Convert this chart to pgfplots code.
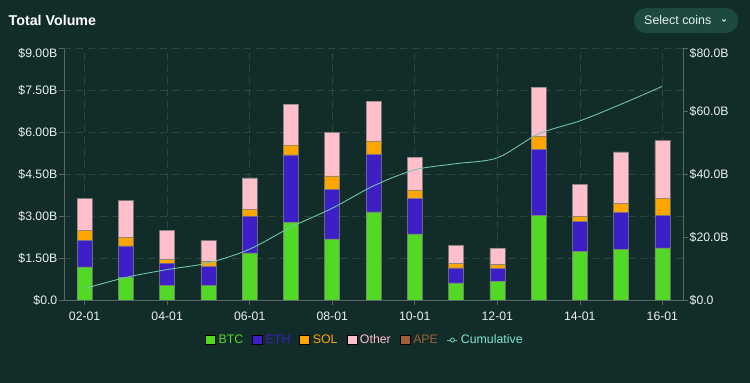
\documentclass[border=0pt]{standalone}
\usepackage{pgfplots}
\usepackage{pgfplotstable}
\pgfplotsset{compat=1.18}
\usepackage{fontspec}
\setmainfont{Liberation Sans}
\definecolor{bg}{RGB}{18,45,41}
\definecolor{btc}{RGB}{82,217,38}
\definecolor{eth}{RGB}{61,31,200}
\definecolor{sol}{RGB}{255,165,0}
\definecolor{other}{RGB}{255,192,203}
\definecolor{ape}{RGB}{160,95,60}
\definecolor{cum}{RGB}{115,195,170}
\definecolor{cumtext}{RGB}{125,228,204}
\definecolor{gridc}{RGB}{44,72,66}
\definecolor{axisc}{RGB}{92,102,98}
\definecolor{txt}{RGB}{234,241,238}
\definecolor{btnfill}{RGB}{28,74,63}

\pgfplotstableread{
x btc eth sol other
0 1.18 0.94 0.38 1.12
1 0.82 1.11 0.31 1.31
2 0.51 0.81 0.14 1.03
3 0.51 0.68 0.19 0.74
4 1.68 1.32 0.24 1.12
5 2.77 2.41 0.36 1.46
6 2.18 1.76 0.49 1.56
7 3.15 2.04 0.49 1.42
8 2.36 1.26 0.31 1.17
9 0.61 0.54 0.15 0.65
10 0.67 0.45 0.14 0.59
11 3.01 2.36 0.48 1.75
12 1.73 1.07 0.19 1.14
13 1.81 1.32 0.32 1.84
14 1.86 1.16 0.62 2.05
}\vol

\pgfplotstableread{
x cum
0 3.62
1 7.17
2 9.66
3 11.78
4 16.14
5 23.14
6 29.13
7 36.23
8 41.33
9 43.28
10 45.13
11 52.73
12 56.86
13 62.15
14 67.84
}\cumtab

\pgfplotsset{
  sq legend/.style={legend image code/.code={\fill[##1] (0bp,-4.5bp) rectangle (10bp,4.5bp);}},
  cum legend/.style={legend image code/.code={\draw[##1] (0bp,0bp) -- (10bp,0bp); \draw[##1, fill=bg] (5bp,0bp) circle (2bp);}},
  common/.style={
    at={(64bp,83bp)}, anchor=south west, scale only axis,
    width=619bp, height=252bp,
    xmin=-0.5, xmax=14.5,
    axis line style={axisc},
    tick style={axisc, line width=0.6bp},
    major tick length=5bp, tick align=outside,
    ticklabel style={font=\fontsize{12.3}{14}\selectfont, text=txt},
    yticklabel style={inner xsep=1.5bp},
    xticklabel style={yshift=-3bp},
  },
}

\begin{document}
\begin{tikzpicture}
\path[use as bounding box, fill=bg] (0bp,0bp) rectangle (750bp,383bp);
\node[anchor=west, text=white, inner sep=0pt, font=\fontsize{14.3}{16}\selectfont\bfseries] at (8.5bp,363bp) {Total Volume};
\fill[btnfill, rounded corners=12bp] (634bp,350bp) rectangle (738bp,375bp);
\node[anchor=west, text=txt, inner sep=0pt, font=\fontsize{12.5}{14}\selectfont] at (644bp,363bp) {Select coins};
\draw[txt, line width=0.8bp] (722.3bp,363.5bp) -- (724bp,361.8bp) -- (725.7bp,363.5bp);

\begin{axis}[common,
  ybar stacked, bar width=15bp,
  ymin=0, ymax=9,
  axis x line*=bottom, axis y line*=left,
  xtick={0,2,...,14},
  xticklabels={02-01,04-01,06-01,08-01,10-01,12-01,14-01,16-01},
  ytick={0,1.5,3,4.5,6,7.5},
  yticklabels={\$0.0,\$1.50B,\$3.00B,\$4.50B,\$6.00B,\$7.50B},
  extra y ticks={9},
  extra y tick labels={\$9.00B},
  extra y tick style={grid=major, yticklabel style={yshift=-5bp}},
  grid=major,
  major grid style={gridc, dash pattern=on 7bp off 5bp, line width=0.6bp},
  every axis plot/.append style={draw=gray, draw opacity=0.75, line width=0.6bp},
]
\addplot[fill=btc] table[x=x,y=btc]{\vol};
\addplot[fill=eth] table[x=x,y=eth]{\vol};
\addplot[fill=sol] table[x=x,y=sol]{\vol};
\addplot[fill=other] table[x=x,y=other]{\vol};
\end{axis}

\begin{axis}[common,
  ymin=0, ymax=80,
  axis y line*=right, axis x line=none,
  ytick={0,20,40,60},
  yticklabels={\$0.0,\$20.0B,\$40.0B,\$60.0B},
  extra y ticks={80},
  extra y tick labels={\$80.0B},
  extra y tick style={yticklabel style={yshift=-5bp}},
  legend columns=6,
  legend style={at={(0.487,-0.159)}, anchor=center, draw=none, fill=none,
    font=\fontsize{12.4}{14}\selectfont,
    nodes={inner xsep=3bp, inner ysep=1bp},
    /tikz/every even column/.append style={column sep=6bp}},
  legend cell align=left,
]
\addlegendimage{sq legend, fill=btc}
\addlegendimage{sq legend, fill=eth}
\addlegendimage{sq legend, fill=sol}
\addlegendimage{sq legend, fill=other}
\addlegendimage{sq legend, fill=ape}
\addplot[cum, line width=0.9bp, smooth, mark=none, cum legend] table[x=x,y=cum]{\cumtab};
\legend{\textcolor{btc}{BTC},\textcolor{eth}{ETH},\textcolor{sol}{SOL},\textcolor{other}{Other},\textcolor{ape}{APE},\textcolor{cumtext}{Cumulative}}
\end{axis}
\end{tikzpicture}
\end{document}
